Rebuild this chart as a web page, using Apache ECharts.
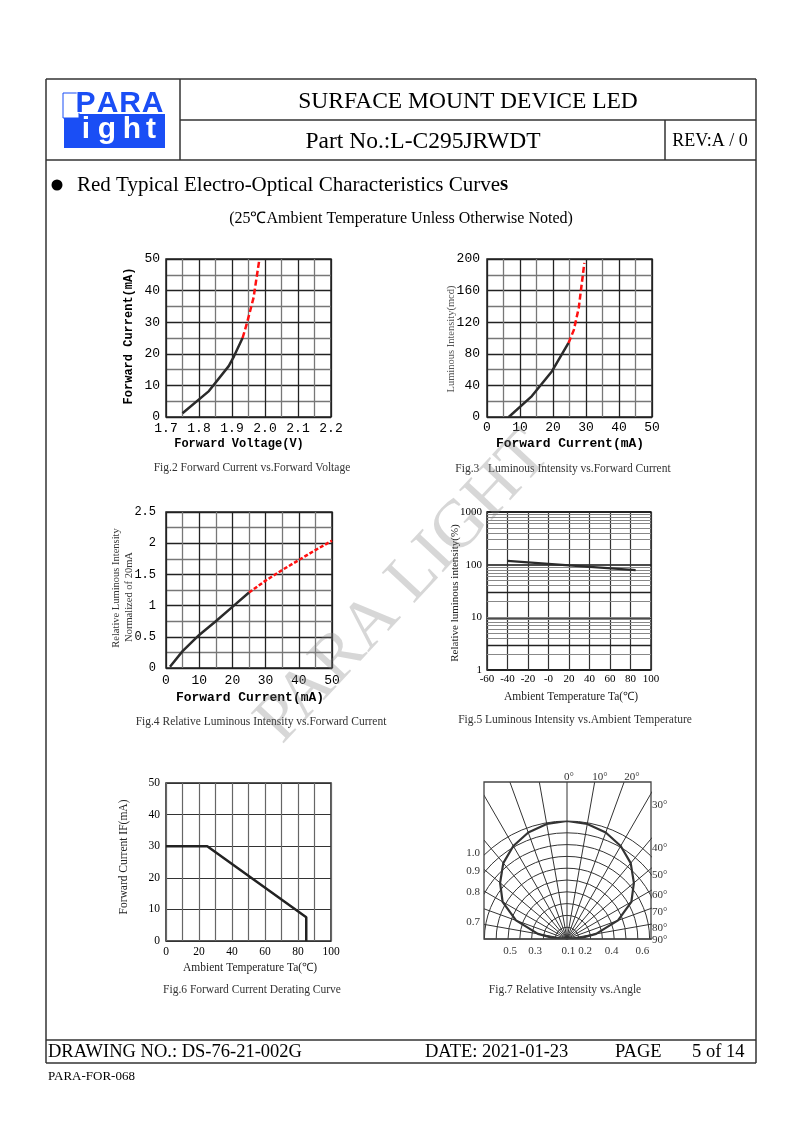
<!DOCTYPE html>
<html><head><meta charset="utf-8">
<script src="https://cdn.jsdelivr.net/npm/echarts@6/dist/echarts.min.js"></script>
<style>html,body{margin:0;padding:0;background:#fff}#c{width:794px;height:1123px}</style>
</head><body><div id="c"></div><script>
// ---------- DATA ----------
// Fig.2 Forward Current vs Forward Voltage
const fig2XTicks = ['1.7','1.8','1.9','2.0','2.1','2.2'];
const fig2YTicks = ['0','10','20','30','40','50'];
const fig2BlackVoltage = [1.75, 1.83, 1.89, 1.906, 1.932];
const fig2BlackCurrent = [1.2, 8.2, 16.1, 19.2, 25];
const fig2RedVoltage = [1.932, 1.944, 1.965, 1.983];
const fig2RedCurrent = [25, 29.2, 37.6, 49.9];
// Fig.3 Luminous Intensity vs Forward Current
const fig3XTicks = ['0','10','20','30','40','50'];
const fig3YTicks = ['0','40','80','120','160','200'];
const fig3BlackCurrent = [6.6, 13.6, 19.7, 24.7];
const fig3BlackIntensity = [0, 26.5, 58, 93.7];
const fig3RedCurrent = [24.7, 26.3, 27.8, 29.5];
const fig3RedIntensity = [93.7, 110, 138, 195];
// Fig.4 Relative Luminous Intensity vs Forward Current
const fig4XTicks = ['0','10','20','30','40','50'];
const fig4YTicks = ['0','0.5','1','1.5','2','2.5'];
const fig4BlackCurrent = [1.2, 5, 10, 15, 20, 25];
const fig4BlackRel = [0.02, 0.27, 0.53, 0.75, 0.98, 1.21];
const fig4RedCurrent = [25, 30, 35, 40, 45, 50];
const fig4RedRel = [1.21, 1.4, 1.57, 1.73, 1.89, 2.04];
// Fig.5 Luminous Intensity vs Ambient Temperature
const fig5XTicks = ['-60','-40','-20','-0','20','40','60','80','100'];
const fig5YTicks = ['1','10','100','1000'];
const fig5Temp = [-40, 20, 85];
const fig5Intensity = [118, 97, 79];
const fig5MinorGrid = [2,4,5,6,7,8,9,10,20,40,50,60,70,80,90,200,300,400,500,600,700,800,900];
const fig5DarkGrid = [3,30];
// Fig.6 Forward Current Derating Curve
const fig6XTicks = ['0','20','40','60','80','100'];
const fig6YTicks = ['0','10','20','30','40','50'];
const fig6Temp = [0, 25, 85, 85];
const fig6Current = [30, 30, 7.5, 0];
// Fig.7 Relative Intensity vs Angle
const fig7Angle = [-90,-85,-80,-70,-60,-50,-40,-30,-20,-10,0,10,20,30,40,50,60,70,80,85,90];
const fig7Rel   = [0,0.13,0.25,0.46,0.63,0.74,0.84,0.91,0.96,0.99,1.0,0.99,0.96,0.91,0.84,0.74,0.63,0.46,0.25,0.13,0];
const fig7TopLabels = ['0°','10°','20°'];
const fig7RightLabels = ['30°','40°','50°','60°','70°','80°','90°'];
const fig7LeftLabels = ['1.0','0.9','0.8','0.7'];
const fig7BottomLabels = ['0.5','0.3','0.1','0.2','0.4','0.6'];

// ---------- HELPERS ----------
const T='"Liberation Serif","Times New Roman",serif';
const M='"Liberation Mono","DejaVu Sans Mono",monospace';
const S='"Liberation Sans",Arial,sans-serif';
const zip=(a,b)=>a.map((v,i)=>[v,b[i]]);
function fmt(ticks,min,step){return v=>{const i=Math.round((v-min)/step);return ticks[i]!==undefined?ticks[i]:'';};}
function ln(x1,y1,x2,y2,w,c,z){return {type:'line',z:z||110,silent:true,shape:{x1,y1,x2,y2},style:{stroke:c||'#333',lineWidth:w||1.5}};}
function tx(x,y,t,font,o){o=o||{};return {type:'text',z:o.z||110,silent:true,x,y,rotation:o.rot||0,style:{text:t,font,fill:o.fill||'#000',textAlign:o.align||'left',textVerticalAlign:o.va||'middle'}};}
function rc(x,y,w,h,fill,stroke,lw,z){return {type:'rect',z:z||110,silent:true,shape:{x,y,width:w,height:h},style:{fill:fill||'none',stroke:stroke||null,lineWidth:lw||0}};}

const major={color:'#222',width:1.3};
const minor={color:'#777',width:1.3};
function valAxis(grid,min,max,step,ticks,o){
  o=o||{};
  return {gridIndex:grid,type:'value',min,max,interval:step,
    axisLine:{show:false},axisTick:{show:false},
    splitLine:{show:true,lineStyle:o.major||major},
    minorTick:{show:false,splitNumber:o.minorN||2},
    minorSplitLine:{show:o.minorN!==1,lineStyle:o.minor||minor},
    axisLabel:{formatter:fmt(ticks,min,step),margin:o.margin||5,fontFamily:o.font||M,fontSize:o.size||13,color:'#000'}};
}
function lineSeries(xi,xs,ys,color,dash,w){
  return {type:'line',xAxisIndex:xi,yAxisIndex:xi,data:zip(xs,ys),symbol:'none',silent:true,z:5,clip:true,
    lineStyle:{color,width:w||2.5,type:dash?dash:'solid'}};
}
const gridBox={show:true,borderColor:'#222',borderWidth:1.5,backgroundColor:'transparent'};

// ---------- OPTION ----------
const darkG={color:'#333',width:1.2};
const grayG={color:'#666',width:1.2};
const option={
  animation:false,
  grid:[
    Object.assign({left:166,top:259,width:165,height:158},gridBox),
    Object.assign({left:487,top:259,width:165,height:158},gridBox),
    Object.assign({left:166,top:512,width:166,height:156},gridBox),
    Object.assign({left:487,top:512,width:164,height:158},gridBox),
    Object.assign({left:166,top:783,width:165,height:158},gridBox)
  ],
  xAxis:[
    valAxis(0,1.7,2.2,0.1,fig2XTicks,{margin:5}),
    valAxis(1,0,50,10,fig3XTicks,{margin:4}),
    valAxis(2,0,50,10,fig4XTicks,{margin:6}),
    valAxis(3,-60,100,20,fig5XTicks,{minorN:1,font:T,size:11,margin:4,major:darkG}),
    valAxis(4,0,100,20,fig6XTicks,{font:T,size:11.5,margin:5,major:grayG,minor:grayG})
  ],
  yAxis:[
    valAxis(0,0,50,10,fig2YTicks,{margin:6}),
    valAxis(1,0,200,40,fig3YTicks,{margin:7}),
    valAxis(2,0,2.5,0.5,fig4YTicks,{margin:10,size:12}),
    {gridIndex:3,type:'log',logBase:10,min:1,max:1000,
      axisLine:{show:false},axisTick:{show:false},
      splitLine:{show:true,lineStyle:{color:'#111',width:1.6}},
      axisLabel:{formatter:v=>fig5YTicks[Math.round(Math.log10(v))]||'',margin:5,fontFamily:T,fontSize:11,color:'#000'}},
    valAxis(4,0,50,10,fig6YTicks,{minorN:1,font:T,size:11.5,margin:6,major:darkG})
  ],
  polar:[
    {center:[567,939],radius:118},
    {center:[567,939],radius:177}
  ],
  angleAxis:[
    {polarIndex:0,type:'value',min:-90,max:90,startAngle:180,endAngle:0,clockwise:true,
      axisLine:{show:false},axisTick:{show:false},axisLabel:{show:false},splitLine:{show:false}},
    {polarIndex:1,type:'value',min:-90,max:90,interval:10,startAngle:180,endAngle:0,clockwise:true,
      axisLine:{show:false},axisTick:{show:false},axisLabel:{show:false},
      splitLine:{show:true,lineStyle:{color:'#333',width:1}}}
  ],
  radiusAxis:[
    {polarIndex:0,type:'value',min:0,max:1,interval:0.1,
      axisLine:{show:false},axisTick:{show:false},axisLabel:{show:false},
      splitLine:{show:true,lineStyle:{color:'#333',width:1}}},
    {polarIndex:1,type:'value',min:0,max:1.5,
      axisLine:{show:false},axisTick:{show:false},axisLabel:{show:false},splitLine:{show:false}}
  ],
  series:[
    lineSeries(0,fig2BlackVoltage,fig2BlackCurrent,'#2b2b2b'),
    lineSeries(0,fig2RedVoltage,fig2RedCurrent,'#ff1010',[6,3]),
    lineSeries(1,fig3BlackCurrent,fig3BlackIntensity,'#2b2b2b'),
    lineSeries(1,fig3RedCurrent,fig3RedIntensity,'#ff1010',[6,3]),
    lineSeries(2,fig4BlackCurrent,fig4BlackRel,'#2b2b2b'),
    lineSeries(2,fig4RedCurrent,fig4RedRel,'#ff1010',[4,2]),
    Object.assign(lineSeries(3,fig5Temp,fig5Intensity,'#2b2b2b',null,2.2),{
      markLine:{silent:true,symbol:['none','none'],label:{show:false},animation:false,
        lineStyle:{type:'solid',color:'#888',width:1.2},
        data:fig5MinorGrid.map(v=>({yAxis:v,lineStyle:{type:'solid',color:'#888',width:1.2}}))
          .concat(fig5DarkGrid.map(v=>({yAxis:v,lineStyle:{type:'solid',color:'#222',width:1.4}})))}
    }),
    lineSeries(4,fig6Temp,fig6Current,'#222',null,2.5),
    {type:'line',coordinateSystem:'polar',polarIndex:0,data:zip(fig7Rel,fig7Angle),symbol:'none',silent:true,z:5,
      lineStyle:{color:'#333',width:2.2}},
    {type:'line',coordinateSystem:'polar',polarIndex:1,data:[],symbol:'none',silent:true}
  ],
  graphic:{elements:[]}
};

const G=option.graphic.elements;
// masks for Fig.7 radial lines outside its box
G.push(rc(380,748,380,34,'#fff',null,0,100));
G.push(rc(380,748,104,195,'#fff',null,0,100));
G.push(rc(652,748,100,195,'#fff',null,0,100));
// Fig.7 box
G.push(rc(484,782,167,157,'none','#444',1.3,105));

// page frame
[[46,79,756,79],[46,79,46,1063],[756,79,756,1063],[46,160,756,160],[180,79,180,160],
 [180,120,756,120],[665,120,665,160],[46,1040,756,1040],[46,1063,756,1063]]
 .forEach(a=>G.push(ln(a[0],a[1],a[2],a[3],1.5,'#333')));

// logo
const BLUE='#1a4ef5';
G.push(rc(64,114,101,34,BLUE));
G.push(rc(63,93,16,25,'#fff',BLUE,1));
[['P',85.5],['A',107.5],['R',130],['A',152.5]].forEach(p=>{
  G.push({type:'text',z:112,silent:true,x:p[1],y:119,style:{text:p[0],font:'bold 30px '+S,fill:BLUE,stroke:'#fff',lineWidth:1.5,textAlign:'center',textVerticalAlign:'bottom'}});
});
[['i',86],['g',107],['h',132],['t',151]].forEach(p=>{
  G.push({type:'text',z:112,silent:true,x:p[1],y:145,style:{text:p[0],font:'bold 30px '+S,fill:'#fff',textAlign:'center',textVerticalAlign:'bottom'}});
});

// header texts
G.push(tx(468,102,'SURFACE MOUNT DEVICE LED','23.5px '+T,{align:'center'}));
G.push(tx(423,142,'Part No.:L-C295JRWDT','23.5px '+T,{align:'center'}));
G.push(tx(710,141,'REV:A / 0','18px '+T,{align:'center'}));
G.push({type:'circle',z:110,silent:true,shape:{cx:57,cy:185,r:5.5},style:{fill:'#000'}});
G.push({type:'text',z:110,silent:true,x:77,y:185,style:{text:'Red Typical Electro-Optical Characteristics Curve{b|s}',
  font:'21px '+T,fill:'#000',textAlign:'left',textVerticalAlign:'middle',
  rich:{b:{fontFamily:T,fontSize:21,fontWeight:'bold',fill:'#000'}}}});
G.push(tx(401,219,'(25℃Ambient Temperature Unless Otherwise Noted)','16px '+T,{align:'center'}));

// footer
G.push(tx(48,1052,'DRAWING NO.: DS-76-21-002G','18.5px '+T));
G.push(tx(425,1052,'DATE: 2021-01-23','18.5px '+T));
G.push(tx(615,1052,'PAGE','18.5px '+T));
G.push(tx(692,1052,'5 of 14','18.5px '+T));
G.push(tx(48,1077,'PARA-FOR-068','13px '+T));

// axis titles
const VR=Math.PI/2;
G.push(tx(239,444,'Forward Voltage(V)','bold 12px '+M,{align:'center'}));
G.push(tx(129,336,'Forward Current(mA)','bold 12px '+M,{align:'center',rot:VR}));
G.push(tx(570,444,'Forward Current(mA)','bold 13px '+M,{align:'center'}));
G.push(tx(451,339,'Luminous Intensity(mcd)','10.5px '+T,{align:'center',rot:VR,fill:'#555'}));
G.push(tx(250,698,'Forward Current(mA)','bold 13px '+M,{align:'center'}));
G.push(tx(116,588,'Relative Luminous Intensity','10.5px '+T,{align:'center',rot:VR,fill:'#333'}));
G.push(tx(129,597,'Normalized of 20mA','10.5px '+T,{align:'center',rot:VR,fill:'#333'}));
G.push(tx(455,593,'Relative luminous intensity(%)','11px '+T,{align:'center',rot:VR,fill:'#222'}));
G.push(tx(571,697,'Ambient Temperature Ta(℃)','11.5px '+T,{align:'center',fill:'#222'}));
G.push(tx(124,857,'Forward Current IF(mA)','11.5px '+T,{align:'center',rot:VR,fill:'#222'}));
G.push(tx(250,968,'Ambient Temperature Ta(℃)','11.5px '+T,{align:'center',fill:'#222'}));

// captions
const CF='11.5px '+T;
G.push(tx(252,468,'Fig.2 Forward Current vs.Forward Voltage',CF,{align:'center',fill:'#333'}));
G.push(tx(563,469,'Fig.3   Luminous Intensity vs.Forward Current',CF,{align:'center',fill:'#333'}));
G.push(tx(261,722,'Fig.4 Relative Luminous Intensity vs.Forward Current',CF,{align:'center',fill:'#333'}));
G.push(tx(575,720,'Fig.5 Luminous Intensity vs.Ambient Temperature',CF,{align:'center',fill:'#333'}));
G.push(tx(252,990,'Fig.6 Forward Current Derating Curve',CF,{align:'center',fill:'#333'}));
G.push(tx(565,990,'Fig.7 Relative Intensity vs.Angle',CF,{align:'center',fill:'#333'}));

// Fig.7 labels
const L7F='11px '+T;
[569,600,632].forEach((x,i)=>G.push(tx(x,777,fig7TopLabels[i],L7F,{align:'center',fill:'#333'})));
[805,847.7,875,895,911.7,927.7,940].forEach((y,i)=>G.push(tx(652,y,fig7RightLabels[i],L7F,{fill:'#333'})));
[852.7,871,891.7,921.7].forEach((y,i)=>G.push(tx(480,y,fig7LeftLabels[i],L7F,{align:'right',fill:'#333'})));
[510,535,568.3,585,611.7,642.3].forEach((x,i)=>G.push(tx(x,951,fig7BottomLabels[i],L7F,{align:'center',fill:'#333'})));

// watermark
G.push({type:'text',z:120,silent:true,x:404,y:588,rotation:47*Math.PI/180,
  style:{text:'PARA LIGHT',font:'68px '+T,fill:'rgba(130,130,130,0.32)',textAlign:'center',textVerticalAlign:'middle'}});

const chart=echarts.init(document.getElementById('c'),null,{renderer:'canvas'});
chart.setOption(option);
</script></body></html>
